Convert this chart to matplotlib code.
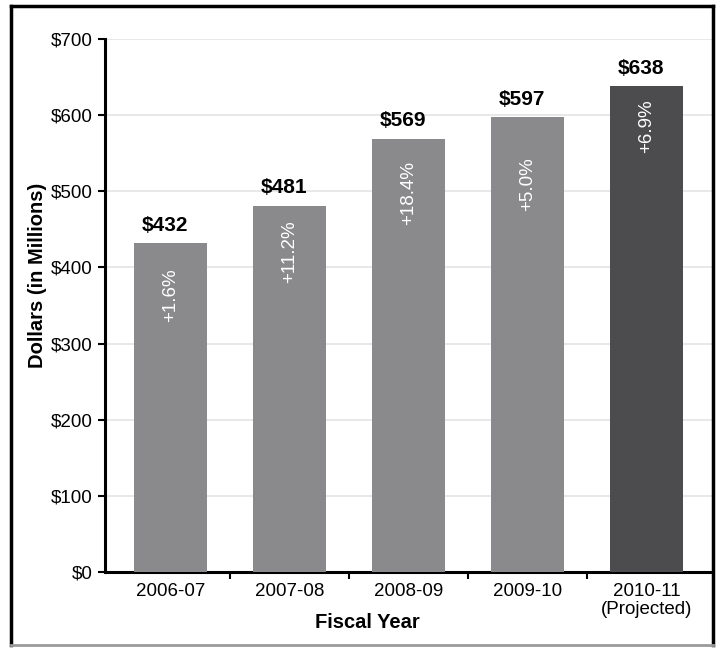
import matplotlib
matplotlib.use("Agg")
import matplotlib.pyplot as plt
from matplotlib.lines import Line2D
from matplotlib.ticker import FuncFormatter

plt.rcParams['font.family'] = ['Liberation Sans', 'DejaVu Sans']

# data
years = ['2006-07', '2007-08', '2008-09', '2009-10', '2010-11\n(Projected)']
dollars = [432, 481, 569, 597, 638]
pct_change = ['+1.6%', '+11.2%', '+18.4%', '+5.0%', '+6.9%']
bar_colors = ['#8a8a8c', '#8a8a8c', '#8a8a8c', '#8a8a8c', '#4c4c4e']
# distance (px) from bar top down to center of the rotated % label
pct_drop_px = [52, 46, 54, 67, 40]

fig = plt.figure(figsize=(7.17, 6.48), dpi=100)
ax = fig.add_axes([105 / 717, 76 / 648, 607 / 717, 533 / 648])

x = list(range(len(years)))
ax.bar(x, dollars, width=0.61, color=bar_colors, zorder=3)

ax.set_ylim(0, 700)
ax.set_xlim(-0.55, len(years) - 0.45)
ax.set_yticks(range(0, 701, 100))
ax.yaxis.set_major_formatter(FuncFormatter(lambda v, p: f'${v:.0f}'))
ax.grid(axis='y', color='#e4e4e4', linewidth=1.2, zorder=0)

# category labels at centres, tick marks between categories
ax.set_xticks(x)
ax.set_xticklabels(years, fontsize=13.5, linespacing=1.05)
ax.tick_params(axis='x', which='major', length=0, pad=8)
ax.set_xticks([i + 0.5 for i in x[:-1]], minor=True)
ax.tick_params(axis='x', which='minor', length=5, width=1.5, direction='out')
ax.tick_params(axis='y', labelsize=13.5, length=5, width=1.5, direction='out', pad=4)

for side in ['top', 'right']:
    ax.spines[side].set_visible(False)
ax.spines['left'].set_linewidth(2.2)
ax.spines['bottom'].set_linewidth(2.2)

ax.set_xlabel('Fiscal Year', fontsize=14.5, fontweight='bold')
ax.set_ylabel('Dollars (in Millions)', fontsize=14.5, fontweight='bold')
ax.xaxis.set_label_coords(0.433, -0.094)
ax.yaxis.set_label_coords(-0.111, 0.557)
ax.xaxis.label.set_va('center')
ax.yaxis.label.set_va('center')

for xi, val, pct, drop in zip(x, dollars, pct_change, pct_drop_px):
    # value labels sit a little left of bar centre in the original
    ax.annotate(f'${val}', (xi, val), xytext=(-4, 6), textcoords='offset points',
                ha='center', va='bottom', fontsize=15, fontweight='bold')
    ax.annotate(pct, (xi, val), xytext=(0, -drop * 0.72), textcoords='offset points',
                ha='center', va='center', rotation=90, color='white', fontsize=13.5)

# frame around the whole picture
fw, fh = 717, 648
fig.add_artist(Line2D([11 / fw, 11 / fw], [1 - 6 / fh, 3 / fh], transform=fig.transFigure,
                      color='black', linewidth=2.5))
fig.add_artist(Line2D([11 / fw, 713 / fw], [1 - 6 / fh, 1 - 6 / fh], transform=fig.transFigure,
                      color='black', linewidth=2.5))
fig.add_artist(Line2D([713 / fw, 713 / fw], [1 - 6 / fh, 3 / fh], transform=fig.transFigure,
                      color='black', linewidth=2.5))
fig.add_artist(Line2D([11 / fw, 713 / fw], [3 / fh, 3 / fh], transform=fig.transFigure,
                      color='#9a9a9a', linewidth=2))

fig.savefig('out.png', dpi=100)
